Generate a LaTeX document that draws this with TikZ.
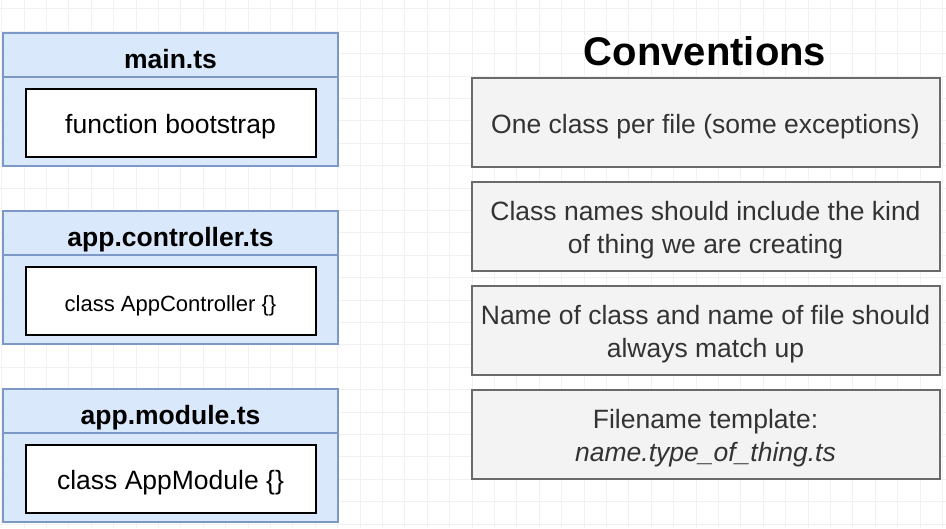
\documentclass[tikz,border=0pt]{standalone}
\usepackage{fontspec}
\setmainfont{Liberation Sans}
\usetikzlibrary{positioning}
\definecolor{fileblue}{HTML}{DAE8FC}
\definecolor{fileedge}{HTML}{7C98C4}
\definecolor{rulegray}{HTML}{F3F3F3}
\definecolor{ruleedge}{HTML}{6A6A6A}
\definecolor{gridline}{HTML}{F1F1F1}
\newcommand{\linestrut}{\rule[-0.2em]{0pt}{1.2em}}
\newcommand{\headstrut}{\rule[-0.2em]{0pt}{1.4em}}
\tikzstyle{filehead} = [rectangle, minimum width=335pt, minimum height=44pt, inner sep=0pt, outer sep=0pt, fill=fileblue, draw=fileedge, line width=1.5pt, font=\fontsize{26.5}{30}\selectfont\bfseries, execute at begin node=\headstrut]
\tikzstyle{filebody} = [rectangle, minimum width=335pt, minimum height=89pt, inner sep=0pt, outer sep=0pt, fill=fileblue, draw=fileedge, line width=1.5pt]
\tikzstyle{codebox} = [rectangle, minimum width=290pt, minimum height=68pt, inner sep=0pt, fill=white, draw=black, line width=2pt, text centered, font=\fontsize{26.5}{30}\selectfont, execute at begin node=\linestrut]
\tikzstyle{rulebox} = [rectangle, minimum width=468pt, minimum height=89pt, inner sep=0pt, outer sep=0pt, fill=rulegray, draw=ruleedge, line width=2pt, align=center, text=black!80, font=\fontsize{26.5}{31}\selectfont]

\begin{document}
\begin{tikzpicture}[x=1pt, y=-1pt, node distance=15pt]
  \useasboundingbox (0,0) rectangle (946,528);
  \fill[white] (0,0) rectangle (946,528);
  % grid
  \foreach \gx in {1.6,24,...,946} \draw[gridline, line width=0.8pt] (\gx,0) -- (\gx,528);
  \foreach \gy in {8.8,31.2,...,528} \draw[gridline, line width=0.8pt] (0,\gy) -- (946,\gy);

  % files
  \node (mainhead) [filehead] at (170.5,55) {main.ts};
  \node (mainbody) [filebody, below=0pt of mainhead] {};
  \node (bootstrap) [codebox, yshift=-1.5pt] at (mainbody) {function bootstrap};

  \node (ctrlhead) [filehead, below=45pt of mainbody] {app.controller.ts};
  \node (ctrlbody) [filebody, below=0pt of ctrlhead] {};
  \node (ctrlclass) [codebox, yshift=-1.5pt, font=\fontsize{22}{26}\selectfont] at (ctrlbody) {\headstrut class AppController \{\}};

  \node (modhead) [filehead, below=45pt of ctrlbody] {app.module.ts};
  \node (modbody) [filebody, below=0pt of modhead] {};
  \node (modclass) [codebox, yshift=-1.5pt] at (modbody) {class AppModule \{\}};

  % conventions
  \node (title) [anchor=base, font=\fontsize{40}{44}\selectfont\bfseries] at (705,65) {Conventions};
  \node (rule1) [rulebox] at (705.5,122.5) {\linestrut One class per file (some exceptions)};
  \node (rule2) [rulebox, below=of rule1] {\linestrut Class names should include the kind\\of thing we are creating\linestrut};
  \node (rule3) [rulebox, below=of rule2] {\linestrut Name of class and name of file should\\always match up\linestrut};
  \node (rule4) [rulebox, below=of rule3] {\linestrut Filename template:\\\textit{name.type\_of\_thing.ts}\linestrut};
\end{tikzpicture}
\end{document}
